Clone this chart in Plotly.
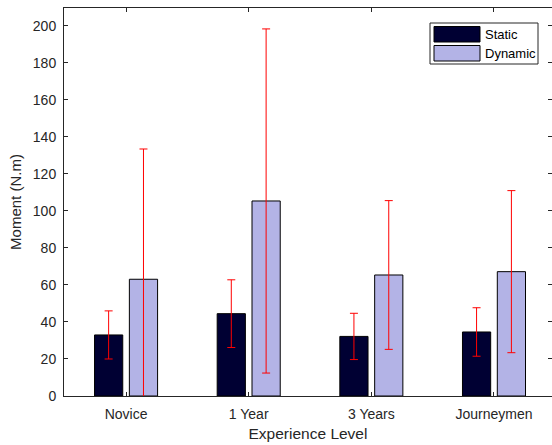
import plotly.graph_objects as go

categories = ["Novice", "1 Year", "3 Years", "Journeymen"]
static_vals = [33.0, 44.5, 32.2, 34.6]
static_err = [13.0, 18.3, 12.5, 13.1]
dynamic_vals = [63.1, 105.4, 65.4, 67.2]
dynamic_err = [70.4, 93.0, 40.2, 43.8]
y_ticks = [0, 20, 40, 60, 80, 100, 120, 140, 160, 180, 200]
series_names = ["Static", "Dynamic"]
series_colors = ["#000033", "#b3b3e6"]

FONT = "Liberation Sans, Arial, sans-serif"
AX = "#262626"

W, H = 552, 445
ML, MR, MT, MB = 64, 0, 8, 49
PW, PH = W - ML - MR, H - MT - MB


def px_x(p):
    return (p - ML) / PW


def px_y(p):
    return (H - MB - p) / PH


fig = go.Figure()
fig.add_trace(go.Bar(
    x=categories, y=static_vals, name=series_names[0],
    width=0.23, offset=-0.257, showlegend=False,
    marker=dict(color=series_colors[0], line=dict(color="#000000", width=1)),
    error_y=dict(type="data", array=static_err, color="#ff0000", thickness=1, width=4),
))
fig.add_trace(go.Bar(
    x=categories, y=dynamic_vals, name=series_names[1],
    width=0.23, offset=0.027, showlegend=False,
    marker=dict(color=series_colors[1], line=dict(color="#000000", width=1)),
    error_y=dict(type="data", array=dynamic_err, color="#ff0000", thickness=1, width=4),
))

# custom legend (MATLAB style)
shapes = [dict(type="rect", xref="paper", yref="paper",
               x0=px_x(430), x1=px_x(538), y0=px_y(64), y1=px_y(23),
               line=dict(color=AX, width=1), fillcolor="white", layer="above")]
annotations = []
rows = [(26.5, 42), (45.5, 61)]
for (t, b), nm, col in zip(rows, series_names, series_colors):
    shapes.append(dict(type="rect", xref="paper", yref="paper",
                       x0=px_x(434), x1=px_x(480), y0=px_y(b), y1=px_y(t),
                       line=dict(color="#000000", width=1), fillcolor=col, layer="above"))
    annotations.append(dict(xref="paper", yref="paper", x=px_x(483), y=px_y((t + b) / 2),
                            text=nm, showarrow=False, xanchor="left", yanchor="middle",
                            font=dict(size=13, color="#000000", family=FONT)))

fig.update_layout(
    width=W, height=H,
    margin=dict(l=ML, r=MR, t=MT, b=MB),
    paper_bgcolor="white", plot_bgcolor="white",
    font=dict(family=FONT, size=14, color=AX),
    barmode="overlay",
    showlegend=False,
    shapes=shapes, annotations=annotations,
    xaxis=dict(
        type="category", range=[-0.506, 3.473],
        showline=True, linecolor=AX, linewidth=1, mirror="ticks",
        ticks="inside", ticklen=4, tickcolor=AX,
        showgrid=False, zeroline=False,
        title=dict(text="Experience Level", font=dict(size=15.5, color=AX), standoff=7),
        tickfont=dict(size=14, color=AX),
        ticklabelstandoff=5,
    ),
    yaxis=dict(
        range=[0, 209.7], tickvals=y_ticks,
        showline=True, linecolor=AX, linewidth=1, mirror="ticks",
        ticks="inside", ticklen=4, tickcolor=AX,
        showgrid=False, zeroline=False,
        title=dict(text="Moment (N.m)", font=dict(size=15, color=AX), standoff=7),
        tickfont=dict(size=14, color=AX),
        ticklabelstandoff=4,
    ),
)

fig.write_html("out.html")
